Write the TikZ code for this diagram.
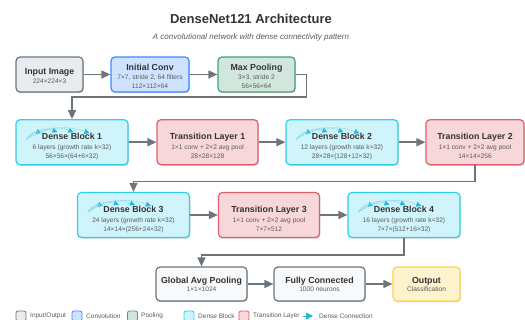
\documentclass[tikz,border=0pt]{standalone}
\usepackage{fontspec}
\setmainfont{Liberation Sans}
\usetikzlibrary{arrows.meta,shadows,calc}
\definecolor{iobg}{HTML}{E9ECEF}\definecolor{iobd}{HTML}{6C757D}
\definecolor{nbg}{HTML}{F8F9FA}
\definecolor{convbg}{HTML}{CFE2FF}\definecolor{convbd}{HTML}{3D8BFD}
\definecolor{poolbg}{HTML}{D1E7DD}\definecolor{poolbd}{HTML}{479F76}
\definecolor{densebg}{HTML}{CFF4FC}\definecolor{densebd}{HTML}{2FD0EE}
\definecolor{transbg}{HTML}{F8D7DA}\definecolor{transbd}{HTML}{E35D6A}
\definecolor{outbg}{HTML}{FFF3CD}\definecolor{outbd}{HTML}{FFD54F}
\definecolor{arrowc}{HTML}{6C757D}
\definecolor{titc}{HTML}{333333}\definecolor{subc}{HTML}{5A5A5A}
\definecolor{dcc}{HTML}{22B8DD}
% title / sub-line helpers: node name, baseline offset from centre, text
\newcommand\btl[3]{\node[ttl] at ($(#1.center)+(0,#2)$) {#3};}
\newcommand\bsb[3]{\node[sbl] at ($(#1.center)+(0,#2)$) {#3};}
\newcommand\dconn[1]{%
  \coordinate (#1s) at ($(#1.north west)+(11,20)$);
  \draw[dcline] (#1s) to[bend left=40] ($(#1s)+(15,-6)$);
  \draw[dcline] (#1s) to[bend left=35] ($(#1s)+(31,-7)$);
  \draw[dcline] (#1s) to[bend left=30] ($(#1s)+(47,-7)$);
  \draw[dcline] (#1s) to[bend left=25] ($(#1s)+(63,-6)$);}
\begin{document}
\begin{tikzpicture}[x=1pt,y=-1pt,
  box/.style={draw, rounded corners=4pt, line width=1.2pt, inner sep=0pt,
    drop shadow={shadow xshift=0.8pt,shadow yshift=-1.2pt,opacity=0.18,fill=black}},
  io/.style={box, draw=iobd, fill=iobg},
  neu/.style={box, draw=iobd, fill=nbg},
  conv/.style={box, draw=convbd, fill=convbg},
  pool/.style={box, draw=poolbd, fill=poolbg},
  dense/.style={box, draw=densebd, fill=densebg, minimum width=112pt, minimum height=45pt},
  trans/.style={box, draw=transbd, fill=transbg, minimum width=101pt, minimum height=45pt},
  outp/.style={box, draw=outbd, fill=outbg},
  ttl/.style={anchor=base, inner sep=0pt, text=titc, font=\fontsize{8.8}{10}\selectfont\bfseries},
  sbl/.style={anchor=base, inner sep=0pt, text=subc, font=\fontsize{6.6}{8}\selectfont},
  conn/.style={draw=arrowc, line width=1.5pt, -{Triangle[length=9pt,width=8pt]}},
  dcline/.style={draw=dcc!55, line width=0.7pt, dash pattern=on 1.5pt off 1pt,
    -{Triangle[length=5pt,width=5pt,color=dcc]}},
  leg/.style={draw, rounded corners=2pt, line width=0.8pt, minimum width=10pt, minimum height=10pt, inner sep=0pt},
  legt/.style={anchor=west, inner sep=0pt, text=subc, font=\fontsize{6.5}{8}\selectfont},
]
\useasboundingbox (0,0) rectangle (525,320);
\node[text=titc, font=\fontsize{13}{15}\selectfont\bfseries] (title) at (251,19) {DenseNet121 Architecture};
\node[text=subc, font=\fontsize{8}{10}\selectfont\itshape] (subtitle) at (251,37) {A convolutional network with dense connectivity pattern};

% row 1
\node[io, minimum width=67pt, minimum height=35pt] (inp) at (49.5,74.5) {};
\btl{inp}{0.5}{Input Image}\bsb{inp}{9}{224×224×3}
\node[conv, minimum width=78pt, minimum height=35pt] (ic) at (150,74.5) {};
\btl{ic}{-3.5}{Initial Conv}\bsb{ic}{4.7}{7×7, stride 2, 64 filters}\bsb{ic}{14}{112×112×64}
\node[pool, minimum width=77pt, minimum height=35pt] (mp) at (256.5,74.5) {};
\btl{mp}{-3.5}{Max Pooling}\bsb{mp}{4.7}{3×3, stride 2}\bsb{mp}{14}{56×56×64}

% row 2
\node[dense] (d1) at (72,142.2) {};
\dconn{d1}
\btl{d1}{-2.2}{Dense Block 1}\bsb{d1}{7.8}{6 layers (growth rate k=32)}\bsb{d1}{16.8}{56×56×(64+6×32)}
\node[trans] (t1) at (207.5,142.2) {};
\btl{t1}{-2.2}{Transition Layer 1}\bsb{t1}{7.8}{1×1 conv + 2×2 avg pool}\bsb{t1}{16.8}{28×28×128}
\node[dense] (d2) at (342,142.2) {};
\dconn{d2}
\btl{d2}{-2.2}{Dense Block 2}\bsb{d2}{7.8}{12 layers (growth rate k=32)}\bsb{d2}{16.8}{28×28×(128+12×32)}
\node[trans, minimum width=98pt] (t2) at (475,142.2) {};
\btl{t2}{-2.2}{Transition Layer 2}\bsb{t2}{7.8}{1×1 conv + 2×2 avg pool}\bsb{t2}{16.8}{14×14×256}

% row 3
\node[dense] (d3) at (133.5,215) {};
\dconn{d3}
\btl{d3}{-2.2}{Dense Block 3}\bsb{d3}{7.3}{24 layers (growth rate k=32)}\bsb{d3}{16.3}{14×14×(256+24×32)}
\node[trans] (t3) at (269,215) {};
\btl{t3}{-2.2}{Transition Layer 3}\bsb{t3}{7.3}{1×1 conv + 2×2 avg pool}\bsb{t3}{16.3}{7×7×512}
\node[dense] (d4) at (404,215) {};
\dconn{d4}
\btl{d4}{-2.2}{Dense Block 4}\bsb{d4}{7.3}{16 layers (growth rate k=32)}\bsb{d4}{16.3}{7×7×(512+16×32)}

% row 4
\node[neu, minimum width=91pt, minimum height=34pt] (gap) at (201.5,284) {};
\btl{gap}{0}{Global Avg Pooling}\bsb{gap}{7.5}{1×1×1024}
\node[neu, minimum width=91pt, minimum height=34pt] (fc) at (319.5,284) {};
\btl{fc}{0}{Fully Connected}\bsb{fc}{7.5}{1000 neurons}
\node[outp, minimum width=67pt, minimum height=34pt] (out) at (426.5,284) {};
\btl{out}{0}{Output}\bsb{out}{7.5}{Classification}

% connectors
\draw[conn] (inp.east) -- (ic.west);
\draw[conn] (ic.east) -- (mp.west);
\draw[conn] (mp.east) -- ++(11,0) |- ($(d1.north)+(0,-22)$) -- (d1.north);
\draw[conn] (d1.east) -- (t1.west);
\draw[conn] (t1.east) -- (d2.west);
\draw[conn] (d2.east) -- (t2.west);
\draw[conn] (t2.south) -- ++(0,16) -| (d3.north);
\draw[conn] (d3.east) -- (t3.west);
\draw[conn] (t3.east) -- (d4.west);
\draw[conn] (d4.south) -- ++(0,17) -| (gap.north);
\draw[conn] (gap.east) -- (fc.west);
\draw[conn] (fc.east) -- (out.west);

% legend
\node[leg, draw=iobd, fill=iobg] (l1) at (21,316) {};
\node[legt] at (30,316) {Input/Output};
\node[leg, draw=convbd, fill=convbg] (l2) at (77,316) {};
\node[legt] at (86,316) {Convolution};
\node[leg, draw=poolbd, fill=poolbg] (l3) at (132.5,316) {};
\node[legt] at (141,316) {Pooling};
\node[leg, draw=densebd, fill=densebg] (l4) at (189,316) {};
\node[legt] at (198,316) {Dense Block};
\node[leg, draw=transbd, fill=transbg] (l5) at (244,316) {};
\node[legt] (l5t) at (253,316) {Transition Layer};
\coordinate (la) at (303,316);
\draw[draw=dcc, line width=0.8pt, -{Triangle[length=7pt,width=7pt,color=dcc]}] (la) -- ++(10,0);
\node[legt] at (319,316) {Dense Connection};
\end{tikzpicture}
\end{document}
